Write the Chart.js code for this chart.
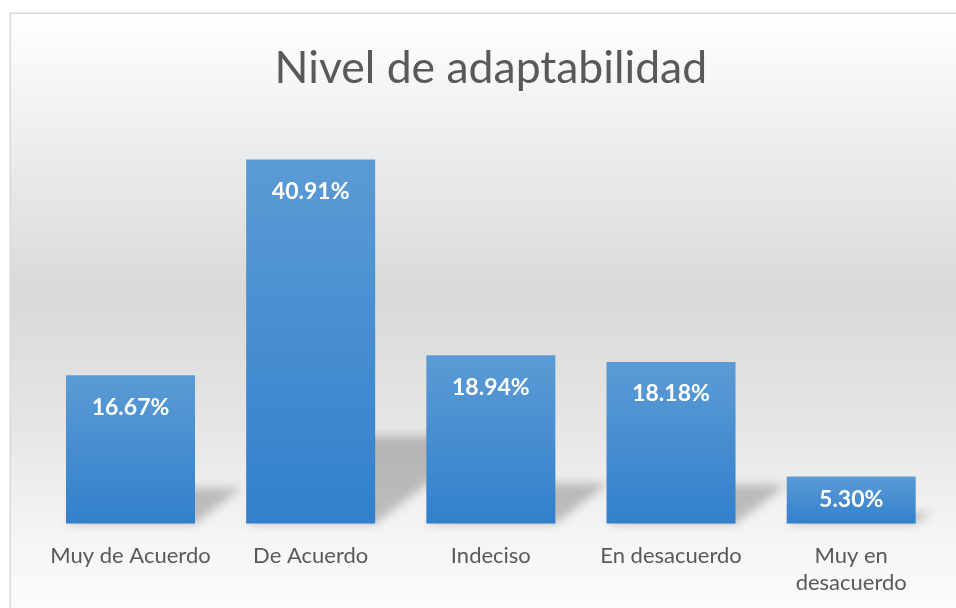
<!DOCTYPE html>
<html>
<head>
<meta charset="utf-8">
<script src="https://cdn.jsdelivr.net/npm/chart.js@4/dist/chart.umd.min.js"></script>
<style>
  html, body { margin: 0; padding: 0; background: #ffffff; }
  #c { display: block; }
</style>
</head>
<body>
<canvas id="c" width="956" height="608"></canvas>
<script>
const titleText = 'Nivel de adaptabilidad';
const categories = ['Muy de Acuerdo', 'De Acuerdo', 'Indeciso', 'En desacuerdo', ['Muy en', 'desacuerdo']];
const percentages = [16.67, 40.91, 18.94, 18.18, 5.30];
const yMin = 0;
const yMax = 45;

const FONT = 'Lato, "Open Sans", "Liberation Sans", sans-serif';

const backgroundPlugin = {
  id: 'bgPanel',
  beforeDraw(chart) {
    const ctx = chart.ctx;
    const W = chart.width, H = chart.height;
    ctx.save();
    ctx.fillStyle = '#ffffff';
    ctx.fillRect(0, 0, W, H);
    const top = 13;
    const g = ctx.createLinearGradient(0, top, 0, H);
    g.addColorStop(0.00, '#ffffff');
    g.addColorStop(0.15, '#f3f3f3');
    g.addColorStop(0.47, '#d9d9d9');
    g.addColorStop(0.70, '#e6e6e6');
    g.addColorStop(0.88, '#f5f5f5');
    g.addColorStop(1.00, '#fbfbfb');
    ctx.fillStyle = g;
    ctx.fillRect(10, top, W, H);
    ctx.strokeStyle = '#d9d9d9';
    ctx.lineWidth = 1.5;
    ctx.beginPath();
    ctx.moveTo(10.25, H + 2);
    ctx.lineTo(10.25, top + 0.25);
    ctx.lineTo(W + 2, top + 0.25);
    ctx.stroke();
    ctx.restore();
  }
};

const shadowPlugin = {
  id: 'barShadow',
  beforeDatasetsDraw(chart) {
    const ctx = chart.ctx;
    const meta = chart.getDatasetMeta(0);
    ctx.save();
    ctx.filter = 'blur(5px)';
    ctx.fillStyle = 'rgba(0,0,0,0.22)';
    meta.data.forEach(el => {
      const p = el.getProps(['x', 'y', 'base', 'width'], true);
      const x0 = p.x - p.width / 2, x1 = p.x + p.width / 2;
      const h = (p.base - p.y) * 0.24;
      const dx = h * 1.3;
      ctx.beginPath();
      ctx.moveTo(x0, p.base);
      ctx.lineTo(x1, p.base);
      ctx.lineTo(x1 + dx, p.base - h);
      ctx.lineTo(x0 + dx, p.base - h);
      ctx.closePath();
      ctx.fill();
    });
    ctx.restore();
  }
};

const labelPlugin = {
  id: 'insideLabels',
  afterDatasetsDraw(chart) {
    const ctx = chart.ctx;
    const meta = chart.getDatasetMeta(0);
    ctx.save();
    ctx.fillStyle = '#ffffff';
    ctx.font = 'bold 23px ' + FONT;
    ctx.textAlign = 'center';
    ctx.textBaseline = 'middle';
    meta.data.forEach((el, i) => {
      const p = el.getProps(['x', 'y', 'base'], true);
      const yy = Math.min(p.y + 32, (p.y + p.base) / 2 - 1);
      ctx.fillText(percentages[i].toFixed(2) + '%', p.x, yy);
    });
    ctx.restore();
  }
};

function barGradient(context) {
  const chart = context.chart;
  const ys = chart.scales.y;
  if (!ys || context.dataIndex === undefined) return '#4a8fd3';
  const v = context.dataset.data[context.dataIndex];
  const top = ys.getPixelForValue(v);
  const base = ys.getPixelForValue(0);
  if (!isFinite(top) || !isFinite(base) || top === base) return '#4a8fd3';
  const g = chart.ctx.createLinearGradient(0, top, 0, base);
  g.addColorStop(0, '#5b9bd5');
  g.addColorStop(1, '#3280cb');
  return g;
}

new Chart(document.getElementById('c'), {
  type: 'bar',
  data: {
    labels: categories,
    datasets: [{
      data: percentages,
      backgroundColor: barGradient,
      borderWidth: 0,
      barPercentage: 0.716,
      categoryPercentage: 1.0
    }]
  },
  options: {
    responsive: false,
    animation: false,
    devicePixelRatio: 1,
    layout: { padding: { left: 40.4, right: 14.7, top: 0, bottom: 0 } },
    plugins: {
      legend: { display: false },
      tooltip: { enabled: false },
      title: {
        display: true,
        text: titleText,
        color: '#595959',
        font: { family: FONT, size: 44.5, weight: 'normal', lineHeight: 1.2 },
        padding: { top: 42, bottom: 27.8 }
      }
    },
    scales: {
      x: {
        grid: { display: false },
        border: { display: false },
        ticks: {
          color: '#595959',
          font: { family: FONT, size: 22, lineHeight: 1.23 },
          padding: 10.8,
          maxRotation: 0,
          autoSkip: false
        },
        afterFit(scale) { scale.height = 608 - 523.7; }
      },
      y: {
        display: false,
        min: yMin,
        max: yMax
      }
    }
  },
  plugins: [backgroundPlugin, shadowPlugin, labelPlugin]
});
</script>
</body>
</html>
